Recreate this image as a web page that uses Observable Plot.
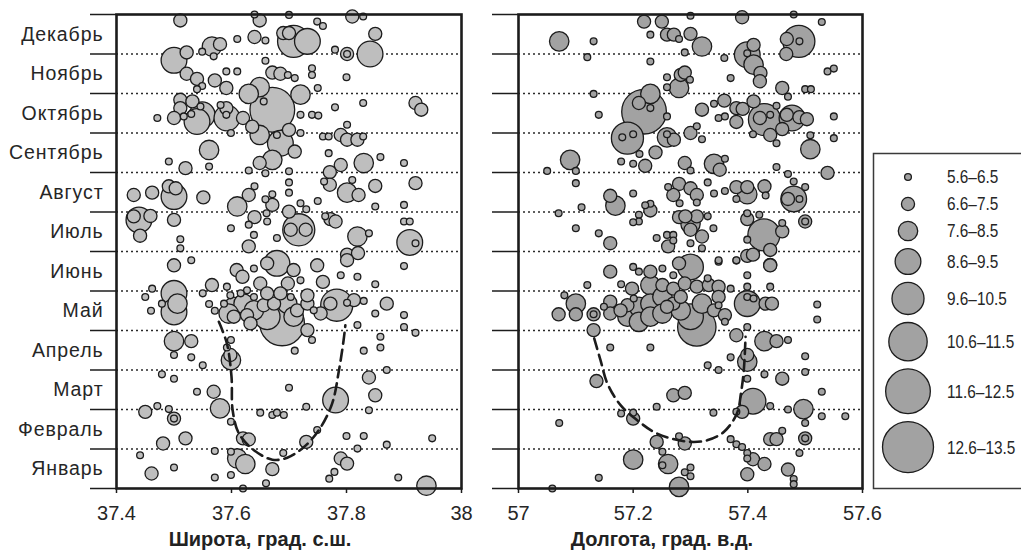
<!DOCTYPE html>
<html><head><meta charset="utf-8">
<script src="https://cdn.jsdelivr.net/npm/d3@7"></script>
<script src="https://cdn.jsdelivr.net/npm/@observablehq/plot@0.6"></script>
<style>
body{margin:0;background:#fff;}
#wrap{position:relative;width:1021px;height:550px;overflow:hidden;font-family:"Liberation Sans",Arial,sans-serif;}
.panel{position:absolute;top:0;}
.panel svg{overflow:visible;}
.xtitle{position:absolute;top:528px;font-weight:bold;font-size:20px;color:#222;transform:translateX(-50%);white-space:nowrap;line-height:22px;}
#legend{position:absolute;left:0;top:0;}
</style></head><body><div id="wrap"></div>
<script>
// ---- data ----
const months = ["Январь","Февраль","Март","Апрель","Май","Июнь","Июль","Август","Сентябрь","Октябрь","Ноябрь","Декабрь"];
const latTicks = [37.4, 37.6, 37.8, 38];
const lonTicks = [57, 57.2, 57.4, 57.6];
const magClasses = [6, 7, 8, 9, 10, 11, 12, 13];
const magLabels = ["5.6–6.5","6.6–7.5","7.6–8.5","8.6–9.5","9.6–10.5","10.6–11.5","11.6–12.5","12.6–13.5"];
const xTitleLat = "Широта, град. с.ш.";
const xTitleLon = "Долгота, град. в.д.";

// [latitude, month (0 = start of Jan, 12 = end of Dec), magnitude class]
const latPoints = [
[37.511,11.85,7],[37.640,12.0,6],[37.649,11.85,7],[37.700,11.99,6],[37.810,11.95,7],[37.829,11.95,6],[37.749,11.82,6],[37.759,11.71,6],
[37.708,11.32,10],[37.732,11.32,9],[37.690,11.53,7],[37.700,11.53,7],[37.640,11.43,7],[37.610,11.38,6],[37.659,11.34,6],[37.850,11.51,7],
[37.841,11.00,9],[37.801,11.00,7],[37.801,11.00,6],[37.780,11.11,6],[37.566,11.19,8],[37.580,11.25,7],[37.549,11.06,6],[37.569,10.94,6],
[37.500,10.84,9],[37.522,11.04,7],[37.522,10.50,7],[37.540,10.37,7],[37.571,10.33,7],[37.591,10.56,6],[37.610,10.56,6],[37.591,10.14,7],
[37.549,10.19,6],[37.540,10.11,6],[37.659,10.83,6],[37.671,10.53,7],[37.685,10.50,7],[37.698,10.47,6],[37.710,10.39,6],[37.740,10.64,6],
[37.740,10.47,6],[37.800,10.41,6],[37.649,10.16,8],[37.630,9.99,8],[37.750,10.14,6],[37.720,9.97,8],[37.671,9.59,12],[37.656,9.80,6],
[37.511,9.84,7],[37.532,9.80,7],[37.511,9.63,7],[37.549,9.46,9],[37.540,9.29,9],[37.546,9.67,6],[37.500,9.38,7],[37.471,9.38,6],
[37.517,9.42,6],[37.530,9.48,6],[37.581,9.71,6],[37.591,9.63,7],[37.591,9.46,6],[37.592,9.38,9],[37.620,9.38,7],[37.599,9.00,6],
[37.636,9.16,7],[37.649,8.95,8],[37.685,8.74,9],[37.700,9.08,7],[37.720,9.46,6],[37.740,9.46,6],[37.751,9.44,6],[37.780,9.65,6],
[37.829,9.76,6],[37.920,9.76,7],[37.930,9.59,7],[37.801,9.21,6],[37.790,8.95,7],[37.759,8.91,6],[37.769,8.91,6],[37.801,8.83,7],
[37.819,8.83,7],[37.829,8.91,6],[37.720,9.00,6],[37.679,8.95,6],[37.561,8.57,8],[37.491,8.28,6],[37.520,8.11,7],[37.561,8.15,6],
[37.671,8.32,8],[37.649,8.24,7],[37.630,8.05,6],[37.659,7.98,6],[37.700,8.03,6],[37.710,8.53,7],[37.769,8.49,6],[37.790,8.19,7],
[37.771,8.01,7],[37.830,8.24,8],[37.859,8.39,6],[37.900,8.24,6],[37.430,7.43,7],[37.462,7.49,7],[37.491,7.65,7],[37.500,7.39,9],
[37.503,7.60,7],[37.551,7.37,7],[37.610,7.14,8],[37.630,7.43,7],[37.640,7.65,6],[37.671,7.45,6],[37.659,7.32,6],[37.671,7.18,7],
[37.700,7.75,6],[37.700,7.49,6],[37.720,7.22,6],[37.730,7.07,6],[37.750,7.28,6],[37.700,7.01,7],[37.771,7.69,7],[37.761,7.77,6],
[37.801,7.49,8],[37.821,7.43,7],[37.810,7.81,6],[37.850,7.66,7],[37.850,7.14,6],[37.920,7.73,7],[37.900,7.18,6],[37.439,6.80,9],
[37.430,6.89,7],[37.459,6.90,7],[37.441,6.40,7],[37.500,6.80,7],[37.511,6.31,6],[37.511,6.08,6],[37.599,6.59,6],[37.640,6.87,7],
[37.630,6.68,6],[37.661,6.97,6],[37.662,6.76,6],[37.717,6.55,10],[37.729,6.55,7],[37.703,6.55,7],[37.679,6.34,6],[37.630,6.13,7],
[37.639,6.42,6],[37.763,6.89,6],[37.772,6.82,7],[37.781,6.76,7],[37.819,6.38,8],[37.839,6.46,6],[37.910,6.23,9],[37.920,6.21,6],
[37.900,6.76,6],[37.910,6.76,6],[37.801,5.92,7],[37.820,5.96,7],
[37.500,5.65,7],[37.530,5.78,6],[37.566,5.15,7],[37.609,5.53,7],[37.619,5.36,7],[37.639,5.57,6],[37.650,5.19,7],[37.662,5.70,7],
[37.679,5.70,9],[37.708,5.53,7],[37.698,5.19,7],[37.749,5.65,7],[37.759,5.23,7],[37.790,5.40,6],[37.819,5.36,6],[37.850,5.17,6],
[37.900,5.63,6],[37.801,5.78,7],[37.720,5.27,6],[37.627,5.02,6],[37.592,5.11,6],
[37.500,4.94,9],[37.500,4.47,9],[37.506,4.68,8],[37.462,5.06,6],[37.450,4.85,6],[37.479,4.68,6],[37.460,4.50,6],[37.550,4.94,6],
[37.561,4.67,6],[37.571,4.50,6],[37.783,4.64,10],[37.772,4.68,7],[37.801,4.70,6],[37.813,4.77,7],[37.830,4.75,6],[37.819,4.14,6],
[37.870,4.68,7],[37.850,4.43,6],[37.900,4.39,6],[37.900,4.09,6],[37.920,3.94,6],[37.688,4.18,12],[37.604,4.60,8],[37.621,4.68,8],
[37.639,4.51,8],[37.656,4.64,7],[37.674,4.68,7],[37.697,4.68,8],[37.714,4.51,7],[37.732,4.68,7],[37.732,4.89,7],[37.743,4.51,6],
[37.755,4.43,7],[37.708,4.35,8],[37.604,4.35,7],[37.627,4.39,7],[37.598,4.89,6],[37.616,4.94,6],[37.639,4.85,6],[37.662,4.94,7],
[37.685,4.94,7],[37.703,4.85,6],[37.732,4.01,7],[37.740,3.76,6],[37.587,4.68,6],[37.595,4.43,8],[37.662,4.35,9],[37.633,4.18,7],
[37.500,3.73,8],[37.530,3.73,7],[37.500,3.38,6],[37.530,3.32,6],[37.550,3.12,6],[37.599,3.76,6],[37.592,3.57,6],[37.599,3.25,8],
[37.598,3.38,7],[37.710,3.49,6],[37.830,3.49,6],[37.859,3.84,6],[37.859,3.57,6],[37.870,3.00,6],
[37.479,2.89,6],[37.500,2.78,6],[37.540,2.45,6],[37.569,2.45,7],[37.580,2.03,8],[37.700,2.55,6],[37.781,2.24,9],[37.839,2.81,7],
[37.850,2.36,7],[37.839,1.98,6],
[37.450,1.94,7],[37.471,2.09,6],[37.491,2.01,6],[37.500,1.77,7],[37.500,1.77,6],[37.481,1.14,7],[37.520,1.27,7],[37.599,1.69,6],
[37.620,1.27,7],[37.630,1.24,7],[37.650,1.92,6],[37.671,1.86,6],[37.679,1.92,6],[37.691,1.86,6],[37.730,2.07,6],[37.730,1.18,7],
[37.749,1.48,6],[37.800,1.33,6],[37.830,1.33,6],[37.870,1.11,6],[37.949,1.27,6],
[37.441,0.84,6],[37.461,0.38,7],[37.500,0.53,6],[37.571,0.95,6],[37.571,0.28,6],[37.599,0.93,6],[37.599,0.34,6],[37.610,0.76,8],
[37.624,0.62,8],[37.620,0.00,6],[37.671,0.49,7],[37.660,0.13,6],[37.690,0.90,6],[37.790,0.76,7],[37.801,0.63,7],[37.779,0.42,6],
[37.770,0.25,6],[37.819,1.01,6],[37.890,0.28,6],[37.939,0.07,8]
];

// [longitude, month, magnitude class]
const lonPoints = [
[57.071,11.32,8],[57.131,11.32,6],[57.120,10.92,6],[57.219,11.82,7],[57.250,11.82,7],[57.230,11.49,6],[57.259,11.49,7],[57.271,11.49,7],
[57.280,11.38,6],[57.300,11.97,6],[57.300,11.51,7],[57.320,11.19,8],[57.290,11.04,6],[57.390,11.93,7],[57.480,12.0,6],[57.529,11.81,6],
[57.489,11.32,10],[57.468,11.38,7],[57.490,11.32,6],[57.467,11.00,7],[57.399,10.98,9],[57.410,11.23,7],[57.410,10.73,8],[57.422,10.52,7],
[57.421,10.31,7],[57.359,10.90,6],[57.399,11.02,6],[57.230,10.81,6],[57.283,10.47,7],[57.290,10.53,7],[57.259,10.41,6],[57.280,10.14,8],
[57.299,10.35,6],[57.259,10.16,6],[57.370,10.39,6],[57.539,10.56,6],[57.550,10.63,6],[57.460,10.14,7],[57.500,10.11,6],[57.510,10.11,6],
[57.470,9.92,6],[57.131,9.99,6],[57.219,9.54,12],[57.230,9.99,8],[57.210,9.76,7],[57.230,9.63,6],[57.140,9.46,6],[57.259,9.42,6],
[57.320,9.59,7],[57.341,9.74,6],[57.359,9.82,7],[57.349,9.38,6],[57.360,9.42,6],[57.380,9.63,7],[57.391,9.61,7],[57.380,9.28,7],
[57.410,9.80,7],[57.429,9.34,10],[57.421,9.38,7],[57.439,9.46,6],[57.450,9.69,6],[57.477,9.38,9],[57.468,9.46,7],[57.490,9.40,7],
[57.503,9.35,7],[57.460,9.10,7],[57.550,9.42,6],[57.409,8.97,6],[57.439,8.95,7],[57.450,8.74,6],[57.190,8.87,10],[57.181,8.89,6],
[57.200,8.97,6],[57.259,8.89,8],[57.259,8.97,6],[57.271,8.83,7],[57.239,8.51,7],[57.211,8.47,6],[57.300,9.00,7],[57.311,9.17,6],
[57.320,8.84,6],[57.221,8.17,7],[57.200,8.22,6],[57.179,8.28,6],[57.290,8.24,7],[57.300,8.05,6],[57.341,8.22,8],[57.351,8.07,7],
[57.360,8.35,6],[57.509,8.59,8],[57.509,8.94,6],[57.550,8.87,6],[57.090,8.32,8],[57.100,8.04,6],[57.050,8.04,6],[57.450,8.14,6],
[57.539,7.99,7],[57.100,7.73,6],[57.470,7.96,6],[57.480,7.77,6],[57.500,7.63,6],[57.480,7.33,9],[57.470,7.33,7],[57.490,7.33,6],
[57.280,7.71,7],[57.300,7.60,7],[57.311,7.43,7],[57.270,7.43,7],[57.261,7.63,6],[57.281,7.22,6],[57.311,7.24,6],[57.330,7.75,6],
[57.341,7.47,6],[57.360,7.53,6],[57.380,7.63,7],[57.399,7.63,7],[57.399,7.45,8],[57.429,7.65,7],[57.431,7.42,6],[57.380,7.33,6],
[57.160,7.41,7],[57.169,7.16,8],[57.200,7.47,6],[57.110,7.12,6],[57.070,6.97,6],[57.100,6.59,6],[57.140,6.46,6],[57.160,6.21,7],
[57.230,7.21,6],[57.230,7.04,7],[57.221,7.17,6],[57.210,6.93,6],[57.210,6.76,6],[57.200,6.74,6],[57.241,6.34,6],[57.259,6.42,6],
[57.270,6.42,6],[57.261,6.13,7],[57.270,6.28,6],[57.280,6.87,7],[57.300,6.70,8],[57.311,6.89,7],[57.291,6.89,7],[57.320,6.38,7],
[57.330,6.89,6],[57.340,6.59,6],[57.300,6.21,6],[57.320,6.08,6],[57.300,6.55,7],[57.399,6.82,7],[57.399,6.97,6],[57.420,6.93,6],
[57.428,6.42,10],[57.460,6.51,7],[57.460,6.72,6],[57.500,6.76,7],[57.500,6.76,6],[57.399,6.30,6],[57.399,5.89,7],[57.409,5.92,7],
[57.439,6.04,7],[57.380,5.77,6],[57.349,5.74,6],[57.439,5.66,7],
[57.160,5.49,7],[57.120,5.15,6],[57.179,5.17,6],[57.200,5.61,6],[57.210,5.49,6],[57.230,5.49,7],[57.230,5.15,8],[57.251,5.57,6],
[57.251,5.15,7],[57.270,5.40,6],[57.270,5.06,7],[57.300,5.61,9],[57.280,5.70,7],[57.290,5.19,7],[57.311,5.11,7],[57.330,5.32,6],
[57.332,5.15,7],[57.349,5.11,7],[57.370,5.06,6],[57.380,5.78,6],[57.349,5.78,6],[57.399,5.40,6],[57.399,5.11,6],[57.439,5.65,7],
[57.439,5.11,6],[57.198,5.06,7],
[57.080,4.89,6],[57.100,4.68,8],[57.070,4.41,7],[57.100,4.41,7],[57.131,4.41,7],[57.131,4.41,6],[57.131,4.01,7],[57.160,4.73,7],
[57.160,4.43,7],[57.149,4.60,6],[57.190,4.64,7],[57.190,4.35,8],[57.210,4.60,8],[57.230,4.68,8],[57.210,4.22,8],[57.230,4.35,8],
[57.251,4.85,8],[57.251,4.43,8],[57.270,4.68,7],[57.283,4.51,8],[57.300,4.35,9],[57.311,4.09,11],[57.320,4.68,8],[57.341,4.51,7],
[57.349,4.85,7],[57.360,4.39,7],[57.360,4.22,6],[57.349,4.64,6],[57.399,4.68,9],[57.399,4.85,6],[57.410,4.81,6],[57.431,4.68,7],
[57.442,4.68,7],[57.399,4.09,6],[57.521,4.66,6],[57.521,4.28,6],[57.178,4.51,7],[57.201,4.81,6],[57.259,4.60,7],[57.283,4.85,7],
[57.380,3.88,7],[57.429,3.73,8],[57.450,3.73,7],[57.470,3.76,6],[57.160,3.57,6],[57.230,3.57,6],[57.399,3.21,8],[57.399,3.38,7],
[57.370,3.32,6],[57.330,3.12,6],[57.349,3.00,6],[57.500,3.35,6],[57.500,2.95,6],
[57.136,2.72,7],[57.270,2.36,7],[57.290,2.42,7],[57.409,2.21,9],[57.399,2.78,6],[57.429,2.89,6],[57.460,2.78,7],[57.439,2.09,6],
[57.529,2.45,6],[57.241,2.07,6],
[57.497,2.01,8],[57.470,2.00,6],[57.500,1.66,6],[57.500,1.27,7],[57.500,1.27,6],[57.071,1.66,6],[57.179,1.90,6],[57.200,1.77,7],
[57.200,1.92,6],[57.340,1.92,6],[57.380,1.94,6],[57.390,1.94,7],[57.529,1.83,6],[57.570,1.83,6],[57.241,1.18,7],[57.251,0.93,6],
[57.280,1.32,6],[57.290,1.14,7],[57.370,1.25,6],[57.380,1.12,6],[57.390,1.05,6],[57.439,1.25,7],[57.450,1.25,7],[57.460,1.46,6],
[57.490,0.90,6],
[57.200,0.73,8],[57.261,0.62,8],[57.251,0.59,6],[57.300,0.53,6],[57.290,0.41,6],[57.300,0.31,6],[57.280,0.04,8],[57.399,0.90,6],
[57.399,0.76,6],[57.409,0.74,7],[57.429,0.62,7],[57.399,0.36,7],[57.470,0.48,7],[57.480,0.24,6],[57.480,0.11,6],[57.140,0.27,6],
[57.059,0.00,6]
];

// dashed outlines
const latCurve = [[37.578,4.22],[37.592,3.67],[37.600,2.83],[37.602,1.98],[37.613,1.39],[37.639,0.97],[37.671,0.73],[37.697,0.78],
  [37.726,1.05],[37.752,1.48],[37.775,2.15],[37.787,3.00],[37.795,3.76],[37.798,4.13]];
const lonCurve = [[57.132,3.80],[57.143,3.25],[57.155,2.66],[57.178,2.11],[57.207,1.73],[57.236,1.43],[57.265,1.27],[57.300,1.18],
  [57.329,1.22],[57.358,1.43],[57.381,1.90],[57.388,2.41],[57.393,3.00],[57.396,3.84]];

// ---- drawing ----
const rOpts = {type: "linear", domain: [6, 13], range: [3.4, 25.5]};
const monthBounds = d3.range(0, 13);
const monthCenters = months.map((_, i) => i + 0.5);
const ink = "#1c1c1c";
const wrap = document.getElementById("wrap");

function panel({points, curve, domain, ticks, fill, width, marginLeft, marginRight, labels}) {
  const marks = [
    Plot.ruleY(d3.range(1, 12), {stroke: "#2a2a2a", strokeWidth: 1.4, strokeDasharray: "2,3"}),
    Plot.axisY({ticks: monthBounds, tickSize: 26, tickFormat: () => "", label: null, stroke: ink, strokeWidth: 1.5}),
    Plot.axisX({ticks, tickSize: 5, tickPadding: 12, tickFormat: d => String(d), label: null, fontSize: 20, stroke: ink, strokeWidth: 1.5}),
    Plot.dot(points, {x: d => d[0], y: d => d[1], r: d => d[2], fill, stroke: ink, strokeWidth: 1.3}),
    Plot.line(curve, {x: d => d[0], y: d => d[1], curve: "catmull-rom", stroke: ink, strokeWidth: 2.6, strokeDasharray: "11,6"}),
    Plot.frame({stroke: ink, strokeWidth: 2.6})
  ];
  if (labels) marks.push(Plot.axisY({ticks: monthCenters, tickSize: 0, tickPadding: 13, tickFormat: d => months[Math.floor(d)], label: null, fontSize: 19.5}));
  return Plot.plot({
    width, height: 550, marginLeft, marginRight, marginTop: 14, marginBottom: 62,
    x: {domain},
    y: {domain: [0, 12]},
    r: rOpts,
    style: {fontFamily: '"Liberation Sans", Arial, sans-serif', color: "#262626", background: "transparent", overflow: "visible"},
    marks
  });
}

function place(node, left) {
  const d = document.createElement("div");
  d.className = "panel";
  d.style.left = left + "px";
  d.appendChild(node);
  wrap.appendChild(d);
  return node;
}

const leftSvg = place(panel({points: latPoints, curve: latCurve, domain: [37.4, 38], ticks: latTicks, fill: "#bebebe", width: 470, marginLeft: 116, marginRight: 9, labels: true}), 0);
place(panel({points: lonPoints, curve: lonCurve, domain: [57, 57.6], ticks: lonTicks, fill: "#a2a2a2", width: 400, marginLeft: 38, marginRight: 18, labels: false}), 480);
// widen month labels slightly (reference font is broader)
d3.select(leftSvg).selectAll("text").filter(function() { return months.includes(this.textContent); })
  .attr("letter-spacing", "0.9px");

function title(text, cx) {
  const t = document.createElement("div");
  t.className = "xtitle";
  t.style.left = cx + "px";
  t.textContent = text;
  wrap.appendChild(t);
}
title(xTitleLat, 260);
title(xTitleLon, 662);

// legend
const rScale = Plot.scale({r: rOpts});
const radii = magClasses.map(v => rScale.apply(v));
const ys = [];
radii.forEach((r, i) => { ys.push(i === 0 ? 177 : ys[i - 1] + Math.max(27, radii[i - 1] + r + 8)); });
const svg = d3.select(wrap).append("svg").attr("id", "legend").attr("width", 1021).attr("height", 550);
svg.append("rect").attr("x", 873.5).attr("y", 153.5).attr("width", 200).attr("height", 335)
  .attr("fill", "none").attr("stroke", "#3a3a3a").attr("stroke-width", 1.5);
const g = svg.selectAll("g.item").data(magClasses).join("g").attr("class", "item");
g.append("circle").attr("cx", 908).attr("cy", (d, i) => ys[i]).attr("r", (d, i) => radii[i])
  .attr("fill", "#a2a2a2").attr("stroke", ink).attr("stroke-width", 1.3);
g.append("text").attr("transform", (d, i) => `translate(947,${ys[i]}) scale(0.83,1)`).attr("dy", "0.35em")
  .attr("font-family", '"Liberation Sans", Arial, sans-serif')
  .attr("font-size", 18.5).attr("fill", "#262626").text((d, i) => magLabels[i]);
</script></body></html>
